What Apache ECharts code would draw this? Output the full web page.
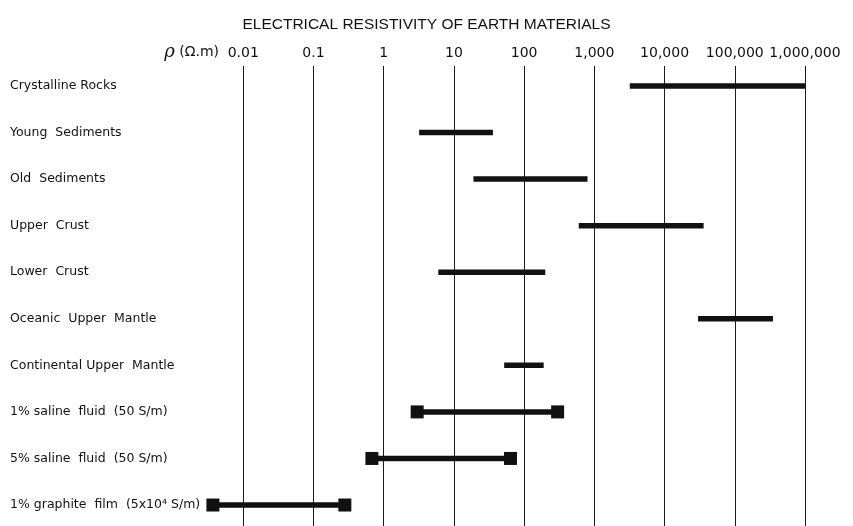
<!DOCTYPE html>
<html><head><meta charset="utf-8">
<script src="https://cdn.jsdelivr.net/npm/echarts@6/dist/echarts.min.js"></script>
<style>html,body{margin:0;padding:0;background:#fff}#c{width:853px;height:526px}</style>
</head><body><div id="c"></div>
<script>
const chartTitle = 'ELECTRICAL RESISTIVITY OF EARTH MATERIALS';
const axisUnitSymbol = 'ρ';
const axisUnit = '(Ω.m)';
const categories = [
  'Crystalline Rocks',
  'Young  Sediments',
  'Old  Sediments',
  'Upper  Crust',
  'Lower  Crust',
  'Oceanic  Upper  Mantle',
  'Continental Upper  Mantle',
  '1% saline  fluid  (50 S/m)',
  '5% saline  fluid  (50 S/m)',
  '1% graphite  film  (5x10⁴ S/m)'
];
const lowValues  = [3200, 3.2, 19, 600, 6, 30000, 52, 3, 0.68, 0.0037];
const highValues = [1000000, 36, 800, 36000, 200, 350000, 190, 300, 64, 0.28];
const squareEndRows = [7, 8, 9];
const tickValues = [0.01, 0.1, 1, 10, 100, 1000, 10000, 100000, 1000000];
const tickLabels = ['0.01', '0.1', '1', '10', '100', '1,000', '10,000', '100,000', '1,000,000'];

const chart = echarts.init(document.getElementById('c'), null, {renderer: 'canvas'});
const INK = '#111';
function tickLabel(v) {
  for (let i = 0; i < tickValues.length; i++) {
    if (Math.abs(Math.log10(v) - Math.log10(tickValues[i])) < 1e-6) return tickLabels[i];
  }
  return '';
}
const gridL = 173, gridR = 48;
const option = {
  backgroundColor: '#fff',
  animation: false,
  title: {
    text: chartTitle, left: 'center', top: 12,
    textStyle: {fontFamily: 'Liberation Sans', fontSize: 15.5, fontWeight: 'normal', color: INK}
  },
  grid: [
    {left: gridL, right: gridR, top: 62.7, bottom: -2.3, containLabel: false, outerBoundsMode: 'none'},
    {left: gridL, right: gridR, top: 66, bottom: 0, containLabel: false, outerBoundsMode: 'none'}
  ],
  xAxis: [
    {gridIndex: 0, type: 'log', logBase: 10, min: 0.001, max: 1000000, show: false},
    {
      gridIndex: 1, type: 'log', logBase: 10, min: 0.001, max: 1000000, position: 'top',
      axisLine: {show: false}, axisTick: {show: false},
      splitLine: {show: true, showMinLine: false, showMaxLine: true, lineStyle: {color: '#1a1a1a', width: 1}},
      axisLabel: {
        show: true, showMinLabel: false, margin: 6, formatter: tickLabel,
        fontFamily: 'DejaVu Sans', fontSize: 14, color: INK
      }
    }
  ],
  yAxis: [
    {
      gridIndex: 0, type: 'category', data: categories, inverse: true,
      axisLine: {show: false}, axisTick: {show: false}, splitLine: {show: false},
      axisLabel: {align: 'left', margin: gridL - 10, fontFamily: 'DejaVu Sans', fontSize: 12.5, color: INK}
    },
    {gridIndex: 1, type: 'value', show: false, min: 0, max: 1}
  ],
  graphic: [{
    type: 'text', x: 219, y: 52,
    style: {
      text: '{r|' + axisUnitSymbol + '} ' + axisUnit,
      align: 'right', verticalAlign: 'middle',
      fontFamily: 'DejaVu Sans', fontSize: 14, fill: INK,
      rich: {r: {fontFamily: 'DejaVu Serif', fontStyle: 'italic', fontSize: 18, fill: INK}}
    }
  }],
  series: [{
    type: 'custom', xAxisIndex: 0, yAxisIndex: 0,
    data: categories.map((c, i) => [lowValues[i], highValues[i], i]),
    encode: {x: [0, 1], y: 2},
    renderItem: function (params, api) {
      const row = api.value(2);
      const p1 = api.coord([api.value(0), row]);
      const p2 = api.coord([api.value(1), row]);
      const children = [{
        type: 'line', shape: {x1: p1[0], y1: p1[1], x2: p2[0], y2: p2[1]},
        style: {stroke: INK, lineWidth: 5.5, lineCap: 'butt'}
      }];
      if (squareEndRows.indexOf(params.dataIndex) >= 0) {
        const s = 13;
        [p1, p2].forEach(p => children.push({
          type: 'rect', shape: {x: p[0] - s / 2, y: p[1] - s / 2, width: s, height: s},
          style: {fill: INK}
        }));
      }
      return {type: 'group', children: children};
    }
  }]
};
chart.setOption(option);
</script>
</body></html>
